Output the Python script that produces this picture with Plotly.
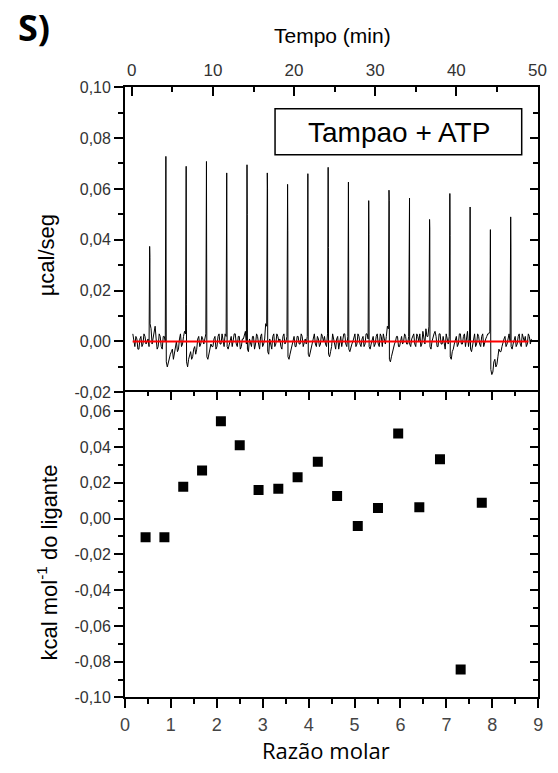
import plotly.graph_objects as go

# ---------------- data ----------------
# Top panel: ITC thermogram (time in min, power in µcal/s)
inj_time = [2.2, 4.2, 6.7, 9.2, 11.7, 14.2, 16.7, 19.2, 21.7, 24.2,
            26.7, 29.2, 31.7, 34.2, 36.7, 39.2, 41.7, 44.2, 46.7]
peak_height = [0.0374, 0.0728, 0.0689, 0.0708, 0.0663, 0.0695, 0.0663, 0.0618, 0.0660, 0.0685,
               0.0627, 0.0554, 0.0595, 0.0564, 0.0480, 0.0582, 0.0529, 0.0440, 0.0490]
peak_mid = [0.0330, 0.0247, 0.0147, 0.0158, 0.0335, 0.0500, 0.0600, 0.0436, 0.0449, 0.0370,
            0.0200, 0.0420, 0.0554, 0.0564, 0.0442, 0.0417, 0.0270, 0.0280, 0.0368]

# baseline samples on two interleaved grids (min)
base_a_t0, base_b_t0, base_dt = 0.125, 0.25, 0.25
baseline_noise_a = [
    0.003, -0.002, 0.001, -0.003, 0.002, -0.001, 0.002, 0.000, -0.002,
    0.005, 0.002, 0.006, -0.003, 0.003, -0.002, 0.002, 0.000,
    -0.010, -0.006, -0.004, -0.007, -0.002, -0.004, 0.001, -0.002, 0.002, 0.003,
    -0.010, -0.005, -0.007, -0.003, -0.005, 0.001, -0.002, 0.002, -0.001, 0.003,
    -0.007, -0.004, -0.002, 0.001, -0.003, 0.002, -0.001, 0.003, -0.002, 0.002,
    -0.003, 0.001, -0.002, 0.003, -0.001, 0.002, -0.003, 0.001, 0.003, -0.001,
    -0.004, -0.001, 0.002, -0.003, 0.003, -0.001, 0.002, -0.002, 0.001, 0.006,
    -0.005, -0.002, 0.002, -0.002, 0.003, 0.000, -0.002, 0.002, -0.001, 0.002,
    -0.007, -0.003, 0.001, -0.002, 0.002, -0.001, 0.003, -0.002, 0.001, 0.002,
    -0.006, -0.003, 0.002, -0.001, 0.002, -0.002, 0.003, 0.000, -0.001, 0.003,
    -0.006, -0.002, 0.001, -0.003, 0.002, 0.000, -0.002, 0.003, -0.001, 0.002,
    -0.004, -0.001, 0.002, -0.002, 0.003, -0.001, 0.001, -0.002, 0.003, 0.001,
    -0.003, 0.001, -0.002, 0.002, -0.001, 0.003, -0.002, 0.001, 0.002, 0.005,
    -0.008, -0.004, -0.001, 0.002, -0.002, 0.001, -0.001, 0.003, -0.001, 0.002,
    -0.002, 0.002, -0.001, 0.003, 0.000, -0.002, 0.004, -0.001, 0.002, 0.006,
    -0.003, 0.002, 0.004, -0.002, 0.003, -0.001, 0.002, -0.003, 0.001, 0.002,
    -0.007, -0.003, 0.001, -0.002, 0.003, -0.001, 0.002, -0.002, 0.004, 0.001,
    -0.004, 0.002, -0.002, 0.003, -0.001, 0.002, -0.002, 0.001, 0.003, 0.004,
    -0.013, -0.008, -0.010, -0.006, -0.004, -0.002, 0.001, -0.002, 0.002, 0.000,
    -0.003, 0.001, -0.002, 0.002, -0.001, 0.003, 0.000, -0.002, 0.003, -0.001,
]
baseline_noise_b = [
    0.001, 0.002, -0.003, 0.001, -0.002, 0.003, -0.001, 0.001,
    0.007, -0.001, 0.004, 0.001, -0.002, 0.002, -0.003, 0.002,
    -0.008, -0.008, -0.005, -0.003, -0.005, 0.000, -0.003, 0.003, -0.001, 0.004,
    -0.008, -0.007, -0.004, -0.006, -0.002, -0.003, 0.002, -0.001, 0.001, 0.002,
    -0.006, -0.005, -0.001, -0.002, 0.002, -0.002, 0.003, -0.001, 0.001, 0.003,
    -0.002, -0.001, 0.002, 0.000, 0.003, -0.002, 0.002, -0.002, 0.001, 0.004,
    -0.003, 0.001, -0.002, 0.002, -0.001, 0.002, -0.003, 0.003, -0.001, 0.007,
    -0.004, 0.001, -0.003, 0.003, -0.001, 0.002, 0.001, -0.003, 0.003, 0.000,
    -0.006, -0.005, -0.001, 0.002, -0.002, 0.002, -0.001, 0.002, 0.000, -0.001,
    -0.005, -0.004, -0.001, 0.003, -0.002, 0.001, -0.001, 0.002, 0.002, -0.002,
    -0.005, -0.004, 0.003, -0.001, 0.001, -0.003, 0.002, 0.001, 0.003, -0.002,
    -0.003, -0.002, 0.000, 0.003, -0.001, 0.002, -0.002, 0.002, -0.001, 0.003,
    -0.002, -0.001, 0.002, -0.001, 0.003, -0.002, 0.002, 0.003, -0.001, 0.006,
    -0.007, -0.006, -0.002, 0.000, 0.002, -0.002, 0.002, 0.000, 0.002, -0.001,
    -0.001, 0.001, 0.003, -0.002, 0.002, 0.003, -0.001, 0.002, 0.005, 0.002,
    -0.002, 0.000, 0.003, 0.002, -0.002, 0.003, -0.001, 0.000, 0.003, -0.001,
    -0.006, -0.004, -0.001, 0.002, -0.001, 0.003, -0.001, 0.003, 0.002, -0.002,
    -0.003, -0.001, 0.003, -0.001, 0.002, -0.002, 0.003, 0.000, 0.002, 0.003,
    -0.011, -0.012, -0.007, -0.009, -0.003, -0.004, 0.000, 0.002, -0.001, 0.003,
    -0.002, -0.001, 0.002, -0.001, 0.003, -0.002, 0.001, 0.002, -0.001, 0.002, 0.001,
]
baseline_fit_t = [0.1, 48.9]
baseline_fit_y = [0.0, 0.0]

# Bottom panel: integrated heats
molar_ratio = [0.45, 0.86, 1.27, 1.68, 2.09, 2.50, 2.91, 3.34, 3.76, 4.20,
               4.62, 5.07, 5.51, 5.95, 6.41, 6.86, 7.31, 7.77]
heat = [-0.0105, -0.0105, 0.0177, 0.0269, 0.0543, 0.0410, 0.0160, 0.0167, 0.0231, 0.0317,
        0.0126, -0.0042, 0.0059, 0.0475, 0.0063, 0.0331, -0.0844, 0.0088]

# Tick labels
time_ticks = [0, 10, 20, 30, 40, 50]
time_minor = [5, 15, 25, 35, 45]
top_y_ticks = [-0.02, 0.00, 0.02, 0.04, 0.06, 0.08, 0.10]
top_y_text = ["-0,02", "0,00", "0,02", "0,04", "0,06", "0,08", "0,10"]
top_y_minor = [-0.01, 0.01, 0.03, 0.05, 0.07, 0.09]
bot_y_ticks = [-0.10, -0.08, -0.06, -0.04, -0.02, 0.00, 0.02, 0.04, 0.06]
bot_y_text = ["-0,10", "-0,08", "-0,06", "-0,04", "-0,02", "0,00", "0,02", "0,04", "0,06"]
bot_y_minor = [-0.09, -0.07, -0.05, -0.03, -0.01, 0.01, 0.03, 0.05]
mr_ticks = [0, 1, 2, 3, 4, 5, 6, 7, 8, 9]
mr_minor = [0.5, 1.5, 2.5, 3.5, 4.5, 5.5, 6.5, 7.5, 8.5]

# ---------------- build thermogram trace ----------------
pts = [(base_a_t0 + i * base_dt, v) for i, v in enumerate(baseline_noise_a)]
pts += [(base_b_t0 + i * base_dt, v) for i, v in enumerate(baseline_noise_b)]
for t, h, m in zip(inj_time, peak_height, peak_mid):
    pts.append((t, h))
    pts.append((t + 0.03, m))
pts.sort(key=lambda p: p[0])
thermo_t = [p[0] for p in pts]
thermo_y = [p[1] for p in pts]

# ---------------- layout helpers ----------------
W, H = 558, 773
def px(x):
    return x / W
def py(y):
    return 1 - y / H

XL, XR = 123, 547
Y_TOP, Y_MID, Y_BOT = 81, 393, 705
xdom = [px(XL), px(XR)]
top_dom = [py(Y_MID), py(Y_TOP)]
bot_dom = [py(Y_BOT), py(Y_MID)]

ARIAL = "Liberation Sans"
LINE = dict(showline=True, linecolor="black", linewidth=1.6, showgrid=False, zeroline=False)
TICKFONT = dict(family=ARIAL, size=16, color="#333")

fig = go.Figure()
fig.add_trace(go.Scatter(x=thermo_t, y=thermo_y, mode="lines",
                         line=dict(color="black", width=1), xaxis="x", yaxis="y",
                         showlegend=False, hoverinfo="skip"))
fig.add_trace(go.Scatter(x=baseline_fit_t, y=baseline_fit_y, mode="lines",
                         line=dict(color="red", width=2), xaxis="x", yaxis="y",
                         showlegend=False, hoverinfo="skip"))
fig.add_trace(go.Scatter(x=molar_ratio, y=heat, mode="markers",
                         marker=dict(symbol="square", size=10, color="black"),
                         xaxis="x2", yaxis="y2", showlegend=False))
# empty traces so mirror axes render
fig.add_trace(go.Scatter(x=[None], y=[None], xaxis="x", yaxis="y3", showlegend=False))
fig.add_trace(go.Scatter(x=[None], y=[None], xaxis="x4", yaxis="y4", showlegend=False))

fig.update_layout(
    width=W, height=H, margin=dict(l=0, r=0, t=0, b=0),
    paper_bgcolor="white", plot_bgcolor="white", showlegend=False,
    xaxis=dict(domain=xdom, anchor="y", side="top", range=[-0.85, 50.1],
               tickmode="array", tickvals=time_ticks, ticktext=[str(v) for v in time_ticks],
               ticks="inside", ticklen=9, tickwidth=1.5, tickcolor="black",
               minor=dict(tickmode="array", tickvals=time_minor, ticks="inside", ticklen=5,
                          tickwidth=1.5, tickcolor="black", showgrid=False),
               tickfont=dict(family=ARIAL, size=17, color="#333"),
               ticklabelstandoff=3, **LINE),
    yaxis=dict(domain=top_dom, anchor="x", range=[-0.02, 0.10],
               tickmode="array", tickvals=top_y_ticks, ticktext=top_y_text,
               ticks="outside", ticklen=9, tickwidth=1.5, tickcolor="black",
               minor=dict(tickmode="array", tickvals=top_y_minor, ticks="outside", ticklen=5,
                          tickwidth=1.5, tickcolor="black", showgrid=False),
               tickfont=TICKFONT, **LINE),
    yaxis3=dict(overlaying="y", anchor="x", side="right", range=[-0.02, 0.10],
                tickmode="array", tickvals=top_y_ticks, showticklabels=False,
                ticks="inside", ticklen=8, tickwidth=1.5, tickcolor="black",
                minor=dict(tickmode="array", tickvals=top_y_minor, ticks="inside", ticklen=5,
                           tickwidth=1.5, tickcolor="black", showgrid=False),
                **LINE),
    xaxis2=dict(domain=xdom, anchor="y2", range=[0, 9],
                tickmode="array", tickvals=mr_ticks, ticktext=[str(v) for v in mr_ticks],
                ticks="outside", ticklen=9, tickwidth=1.5, tickcolor="black",
                minor=dict(tickmode="array", tickvals=mr_minor, ticks="outside", ticklen=5,
                           tickwidth=1.5, tickcolor="black", showgrid=False),
                tickfont=dict(family=ARIAL, size=18, color="#444"),
                ticklabelstandoff=1, **LINE),
    yaxis2=dict(domain=bot_dom, anchor="x2", range=[-0.10, 0.0705],
                tickmode="array", tickvals=bot_y_ticks, ticktext=bot_y_text,
                ticks="outside", ticklen=9, tickwidth=1.5, tickcolor="black",
                minor=dict(tickmode="array", tickvals=bot_y_minor, ticks="outside", ticklen=5,
                           tickwidth=1.5, tickcolor="black", showgrid=False),
                tickfont=TICKFONT, **LINE),
    xaxis4=dict(overlaying="x2", anchor="y2", side="top", range=[0, 9],
                tickmode="array", tickvals=mr_ticks, showticklabels=False,
                ticks="inside", ticklen=8, tickwidth=1.5, tickcolor="black",
                minor=dict(tickmode="array", tickvals=mr_minor, ticks="inside", ticklen=4,
                           tickwidth=1.5, tickcolor="black", showgrid=False),
                **LINE),
    yaxis4=dict(overlaying="y2", anchor="x2", side="right", range=[-0.10, 0.0705],
                tickmode="array", tickvals=bot_y_ticks, showticklabels=False,
                ticks="inside", ticklen=8, tickwidth=1.5, tickcolor="black",
                minor=dict(tickmode="array", tickvals=bot_y_minor, ticks="inside", ticklen=5,
                           tickwidth=1.5, tickcolor="black", showgrid=False),
                **LINE),
)

# label box
fig.add_shape(type="rect", xref="paper", yref="paper",
              x0=px(277), x1=px(530), y0=py(150), y1=py(103),
              line=dict(color="black", width=1.5), fillcolor="white", layer="above")

ann = [
    dict(text="<b>S)</b>", x=px(11), y=py(20), xanchor="left", yanchor="middle",
         font=dict(family="Open Sans", size=36, color="black")),
    dict(text="Tempo (min)", x=px(336), y=py(28), xanchor="center", yanchor="middle",
         font=dict(family=ARIAL, size=21, color="black")),
    dict(text="Tampao + ATP", x=px(404), y=py(127), xanchor="center", yanchor="middle",
         font=dict(family=ARIAL, size=28, color="black")),
    dict(text="µcal/seg", x=px(43), y=py(253), xanchor="center", yanchor="middle",
         textangle=-90, font=dict(family=ARIAL, size=22, color="black")),
    dict(text="kcal mol<sup>-1</sup> do ligante", x=px(43), y=py(567), xanchor="center",
         yanchor="middle", textangle=-90,
         font=dict(family=ARIAL, size=22, color="black")),
    dict(text="Razão molar", x=px(329), y=py(759), xanchor="center", yanchor="middle",
         font=dict(family="Open Sans", size=22, color="black")),
]
for a in ann:
    a.update(xref="paper", yref="paper", showarrow=False)
    fig.add_annotation(**a)

fig.write_html("out.html")
